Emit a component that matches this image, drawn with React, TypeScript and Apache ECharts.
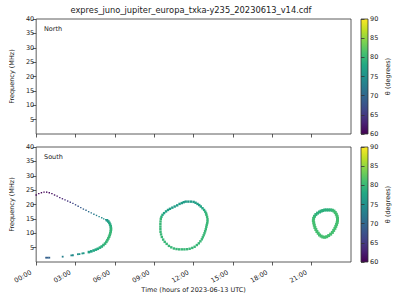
import React, { useEffect, useRef } from 'react';
import * as echarts from 'echarts';

const TITLE = 'expres_juno_jupiter_europa_txka-y235_20230613_v14.cdf';
const X_NAME = 'Time (hours of 2023-06-13 UTC)';
const Y_NAME = 'Frequency (MHz)';
const CB_NAME = 'θ (degrees)';
const PANEL_LABELS = ['North', 'South'];

const xTickHours = [0, 3, 6, 9, 12, 15, 18, 21];
const yTicks = [5, 10, 15, 20, 25, 30, 35, 40];
const cbTicks = [60, 65, 70, 75, 80, 85, 90];

const viridis = ['#440154', '#482475', '#414487', '#355f8d', '#2a788e', '#21918c', '#22a884', '#44bf70', '#7ad151', '#bddf26', '#fde725'];

// [hour, frequency MHz, theta deg]
const loop1Upper = [
  [0.0, 23.3, 60.2], [0.2, 23.8, 60.3], [0.4, 24.1, 60.4], [0.6, 24.3, 60.5], [0.8, 24.3, 60.6],
  [1.0, 24.1, 60.8], [1.2, 23.8, 61.0], [1.4, 23.3, 61.4], [1.6, 22.9, 61.9], [1.8, 22.4, 62.5],
  [2.0, 22.0, 63.1], [2.2, 21.6, 63.8], [2.4, 21.2, 64.5], [2.6, 20.8, 65.3], [2.8, 20.4, 66.1],
  [3.0, 19.9, 66.9], [3.2, 19.4, 67.7], [3.4, 18.9, 68.5], [3.6, 18.4, 69.3], [3.8, 18.0, 70.1],
  [4.0, 17.5, 70.9], [4.2, 17.1, 71.6], [4.4, 16.6, 72.3], [4.6, 16.2, 73.0], [4.8, 15.8, 73.7],
  [5.0, 15.4, 74.4], [5.15, 15.0, 75.0], [5.3, 14.7, 75.6],
];
const loop1Nose = [
  [5.4, 14.5, 76], [5.5, 14.1, 76.8], [5.58, 13.6, 77.5], [5.64, 13.0, 78.2], [5.68, 12.4, 78.8],
  [5.7, 11.8, 79.3], [5.7, 11.2, 79.6], [5.68, 10.6, 79.8], [5.65, 10.0, 80], [5.61, 9.4, 80],
  [5.56, 8.8, 80], [5.5, 8.2, 80], [5.43, 7.6, 80], [5.35, 7.0, 79.8], [5.25, 6.4, 79.6],
  [5.13, 5.9, 79.4], [5.0, 5.4, 79.1], [4.86, 5.0, 78.8], [4.7, 4.6, 78.5], [4.55, 4.3, 78.2],
  [4.38, 4.0, 77.9], [4.2, 3.7, 77.5], [4.02, 3.45, 77.1],
];
const loop1Tail = [
  [3.62, 3.05, 76.2], [3.52, 2.98, 76.0], [3.3, 2.75, 75.4], [3.18, 2.7, 75.1], [2.8, 2.35, 74.4],
  [2.68, 2.3, 74.2], [2.02, 1.85, 73.0], [1.0, 1.5, 69.5], [0.88, 1.5, 69.3], [0.76, 1.5, 69.1],
];
const loop2 = [
  [11.4, 21.0, 76.5], [11.6, 21.0, 76.5], [11.8, 21.0, 76.5], [12.0, 20.9, 76.5], [12.15, 20.6, 77],
  [12.3, 20.2, 77], [12.43, 19.8, 77], [12.55, 19.3, 77.5], [12.68, 18.7, 78], [12.8, 18.1, 78.5],
  [12.89, 17.5, 79], [12.95, 16.9, 79.5], [12.98, 16.4, 80], [13.03, 15.7, 80], [13.06, 14.9, 80],
  [13.06, 14.2, 80], [13.04, 13.5, 80], [13.0, 12.9, 80], [12.97, 12.2, 80], [12.93, 11.4, 80],
  [12.88, 10.7, 80], [12.83, 10.0, 80], [12.77, 9.3, 80], [12.7, 8.6, 80], [12.63, 7.9, 80],
  [12.52, 7.2, 80], [12.4, 6.5, 80], [12.25, 5.9, 80], [12.08, 5.3, 80], [11.9, 4.9, 80],
  [11.7, 4.6, 80], [11.5, 4.45, 80], [11.3, 4.4, 80], [11.1, 4.4, 80], [10.9, 4.4, 80],
  [10.7, 4.5, 80], [10.5, 4.7, 80], [10.3, 5.1, 80], [10.12, 5.6, 80], [9.95, 6.3, 80],
  [9.8, 7.0, 80], [9.68, 7.8, 80], [9.58, 8.7, 80], [9.52, 9.6, 80], [9.48, 10.5, 80],
  [9.47, 11.4, 80], [9.47, 12.3, 80], [9.47, 13.2, 80], [9.48, 14.1, 80], [9.5, 15.0, 80],
  [9.55, 15.7, 79], [9.63, 16.4, 78.5], [9.75, 17.0, 77.5], [9.9, 17.6, 77.5], [10.05, 18.1, 77],
  [10.2, 18.5, 77], [10.38, 18.9, 76.5], [10.56, 19.3, 76.5], [10.75, 19.7, 76.5], [10.93, 20.2, 76.5],
  [11.1, 20.5, 76.5], [11.25, 20.8, 76.5],
];
const loop3 = [
  [21.85, 17.9, 79], [22.0, 18.1, 79], [22.15, 18.1, 79], [22.3, 18.1, 79], [22.45, 18.1, 79.5],
  [22.58, 18.0, 80], [22.7, 17.7, 80.5], [22.8, 17.2, 81], [22.88, 16.6, 81], [22.94, 15.9, 81],
  [22.97, 15.2, 81], [22.97, 14.5, 81], [22.95, 13.8, 81], [22.9, 13.1, 81], [22.84, 12.4, 81],
  [22.77, 11.7, 81], [22.68, 11.0, 81], [22.58, 10.3, 81], [22.45, 9.7, 81], [22.3, 9.2, 81],
  [22.15, 8.8, 81], [22.0, 8.6, 81], [21.85, 8.7, 81], [21.72, 9.0, 81], [21.6, 9.4, 81],
  [21.5, 10.0, 81], [21.4, 10.6, 81], [21.32, 11.3, 81], [21.25, 12.0, 81], [21.2, 12.8, 81],
  [21.16, 13.6, 81], [21.13, 14.4, 81], [21.15, 15.2, 80.5], [21.22, 15.9, 80], [21.32, 16.5, 79.5],
  [21.45, 17.0, 79], [21.6, 17.4, 79], [21.72, 17.7, 79],
];

const FONT = 'DejaVu Sans';
const TXT = '#222';
const LINE = '#333';

const PLOT_LEFT = 31;
const PLOT_W = 320;
const PLOT_H = 115;
const TOPS = [19, 147];
const CB_LEFT = 361;
const CB_W = 7;

export default function App() {
  const ref = useRef<HTMLDivElement>(null);
  useEffect(() => {
    const chart = echarts.init(ref.current!, null, { renderer: 'svg' });
    const gradient = new echarts.graphic.LinearGradient(0, 1, 0, 0,
      viridis.map((c, i) => ({ offset: i / (viridis.length - 1), color: c })));

    const grids: any[] = [];
    const xAxes: any[] = [];
    const yAxes: any[] = [];
    TOPS.forEach((top, i) => {
      grids.push({ left: PLOT_LEFT, top, width: PLOT_W, height: PLOT_H, show: true, borderColor: LINE, borderWidth: 0.8, backgroundColor: '#fff' });
      xAxes.push({
        type: 'value', gridIndex: i, min: 0, max: 24, interval: 3,
        axisLine: { show: false },
        splitLine: { show: false },
        axisTick: { show: true, length: 3.5, lineStyle: { color: LINE, width: 0.8 }, customValues: xTickHours },
        axisLabel: {
          show: i === 1, rotate: 30, align: 'right', verticalAlign: 'middle', padding: [0, 6, 0, 0],
          fontSize: 6.5, fontFamily: FONT, color: TXT, margin: 7,
          formatter: (v: number) => (xTickHours.includes(v) ? `${String(v).padStart(2, '0')}:00` : ''),
        },
        name: i === 1 ? X_NAME : '', nameLocation: 'middle', nameGap: 21,
        nameTextStyle: { fontSize: 6.5, fontFamily: FONT, color: TXT },
      });
      yAxes.push({
        type: 'value', gridIndex: i, min: 0, max: 40,
        axisLine: { show: false },
        splitLine: { show: false },
        axisTick: { show: true, length: 3.5, lineStyle: { color: LINE, width: 0.8 }, customValues: yTicks },
        axisLabel: { customValues: yTicks, fontSize: 6.5, fontFamily: FONT, color: TXT, margin: 2 },
        name: Y_NAME, nameLocation: 'middle', nameGap: 17, nameRotate: 90,
        nameTextStyle: { fontSize: 6.5, fontFamily: FONT, color: TXT },
      });
    });
    TOPS.forEach((top, i) => {
      grids.push({ left: CB_LEFT, top, width: CB_W, height: PLOT_H, show: true, borderColor: LINE, borderWidth: 0.8, backgroundColor: gradient });
      xAxes.push({ type: 'value', gridIndex: 2 + i, min: 0, max: 1, show: false });
      yAxes.push({
        type: 'value', gridIndex: 2 + i, min: 60, max: 90, interval: 5, position: 'right',
        axisLine: { show: false },
        splitLine: { show: false },
        axisTick: { show: true, length: 3.5, lineStyle: { color: LINE, width: 0.8 } },
        axisLabel: { fontSize: 6.5, fontFamily: FONT, color: TXT, margin: 2, customValues: cbTicks },
        name: CB_NAME, nameLocation: 'middle', nameGap: 16, nameRotate: 90,
        nameTextStyle: { fontSize: 6.5, fontFamily: FONT, color: TXT },
      });
    });

    const mk = (data: number[][], size: number) => ({
      type: 'scatter', xAxisIndex: 1, yAxisIndex: 1, data, symbol: 'rect', symbolSize: size,
      itemStyle: { opacity: 1 }, silent: true,
    });

    chart.setOption({
      animation: false,
      backgroundColor: '#fff',
      grid: grids,
      xAxis: xAxes,
      yAxis: yAxes,
      visualMap: {
        type: 'continuous', show: false, min: 60, max: 90, dimension: 2, seriesIndex: [0, 1, 2, 3, 4],
        inRange: { color: viridis },
      },
      series: [
        mk(loop1Upper, 1.4),
        mk(loop1Nose, 2.6),
        mk(loop1Tail, 1.8),
        mk(loop2, 2.4),
        mk(loop3, 3),
      ],
      graphic: [
        { type: 'text', x: PLOT_LEFT + PLOT_W / 2, y: 10, style: { text: TITLE, fontSize: 8.3, fontFamily: FONT, fill: TXT, align: 'center', verticalAlign: 'middle' } },
        ...TOPS.map((top, i) => ({
          type: 'text', x: 44, y: top + 10, style: { text: PANEL_LABELS[i], fontSize: 6.5, fontFamily: FONT, fill: TXT, align: 'left', verticalAlign: 'middle' },
        })),
      ],
    });
    return () => chart.dispose();
  }, []);
  return <div ref={ref} style={{ position: 'fixed', left: 0, top: 0, width: 400, height: 300 }} />;
}
